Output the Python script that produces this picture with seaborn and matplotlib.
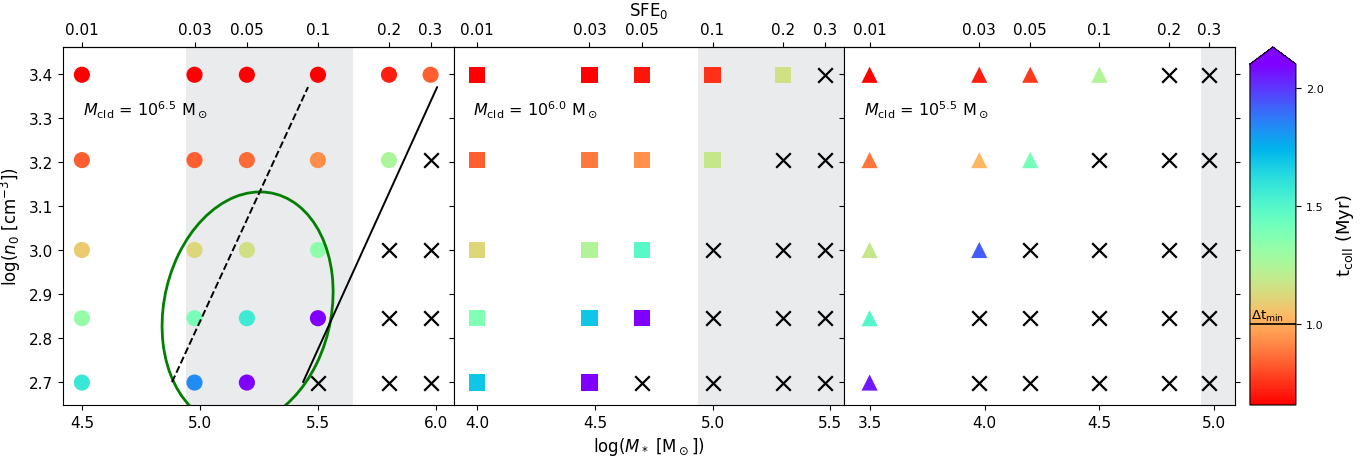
import numpy as np
import pandas as pd
import matplotlib
matplotlib.use("Agg")
import matplotlib.pyplot as plt
import matplotlib.transforms as mtransforms
from matplotlib.patches import Ellipse
from matplotlib.colors import Normalize
from matplotlib.cm import ScalarMappable
import seaborn as sns

sns.set_style("ticks", rc={
    "axes.edgecolor": "black", "xtick.color": "black", "ytick.color": "black",
    "text.color": "black", "axes.labelcolor": "black", "axes.linewidth": 1.1,
})
plt.rcParams["font.family"] = ["DejaVu Sans"]

# Cloud masses (log10 Msun), star-formation efficiencies and initial densities
log_mcld = [6.5, 6.0, 5.5]
mcld_labels = ["6.5", "6.0", "5.5"]
sfe = [0.01, 0.03, 0.05, 0.1, 0.2, 0.3]
sfe_labels = ["0.01", "0.03", "0.05", "0.1", "0.2", "0.3"]
n0 = [500, 700, 1000, 1600, 2500]

# Collapse time t_coll (Myr); rows follow n0, columns follow sfe; NaN = no collapse
nan = np.nan
t_coll_65 = [
    [1.58, 1.83, 2.20, nan, nan, nan],
    [1.32, 1.40, 1.57, 2.20, nan, nan],
    [1.08, 1.12, 1.15, 1.34, nan, nan],
    [0.84, 0.84, 0.86, 0.93, 1.26, nan],
    [0.60, 0.60, 0.60, 0.62, 0.72, 0.84],
]
t_coll_60 = [
    [1.69, 2.20, nan, nan, nan, nan],
    [1.38, 1.69, 2.20, nan, nan, nan],
    [1.11, 1.24, 1.49, nan, nan, nan],
    [0.84, 0.89, 0.94, 1.18, nan, nan],
    [0.60, 0.60, 0.70, 0.75, 1.15, nan],
]
t_coll_55 = [
    [2.05, nan, nan, nan, nan, nan],
    [1.50, nan, nan, nan, nan, nan],
    [1.18, 1.93, nan, nan, nan, nan],
    [0.88, 1.03, 1.41, nan, nan, nan],
    [0.60, 0.72, 0.77, 1.24, nan, nan],
]
t_coll_all = [t_coll_65, t_coll_60, t_coll_55]
dt_min = 1.0

markers = ["o", "s", "^"]
xlims = [(4.42, 6.075), (3.90, 5.56), (3.39, 5.09)]
xticks = [[4.5, 5.0, 5.5, 6.0], [4.0, 4.5, 5.0, 5.5], [3.5, 4.0, 4.5, 5.0]]
ylim = (2.648, 3.461)
yticks = [2.7, 2.8, 2.9, 3.0, 3.1, 3.2, 3.3, 3.4]
shade = (4.94, 5.65)

norm = Normalize(vmin=0.66, vmax=2.10)
cmap = "rainbow_r"

fig = plt.figure(figsize=(13.68, 4.6), dpi=100)
left, bottom, width, height = 0.04605, 0.1174, 0.28558, 0.7783

axes = []
for i, (m, tc) in enumerate(zip(log_mcld, t_coll_all)):
    ax = fig.add_axes([left + i * width, bottom, width, height])
    axes.append(ax)
    rows = []
    for r, n in enumerate(n0):
        for c, s in enumerate(sfe):
            rows.append({"logM": np.log10(s) + m, "logn": np.log10(n), "tcoll": tc[r][c]})
    df = pd.DataFrame(rows)
    ok = df[df["tcoll"].notna()]
    fail = df[df["tcoll"].isna()]

    ax.axvspan(*shade, color="#eaebed", lw=0, zorder=0)
    sns.scatterplot(data=ok, x="logM", y="logn", hue="tcoll", hue_norm=norm,
                    palette=cmap, marker=markers[i], s=135, linewidth=0,
                    legend=False, ax=ax, zorder=3)
    if len(fail):
        sns.scatterplot(data=fail, x="logM", y="logn", marker="x", color="black",
                        s=110, linewidth=1.6, legend=False, ax=ax, zorder=3)

    ax.set_xlim(*xlims[i])
    ax.set_ylim(*ylim)
    ax.set_xticks(xticks[i], labels=[f"{v:.1f}" for v in xticks[i]])
    ax.set_yticks(yticks, labels=[f"{v:.1f}" for v in yticks])
    ax.tick_params(axis="y", left=True, right=True, labelleft=(i == 0), labelsize=11)
    ax.tick_params(axis="x", top=False, labelsize=11)
    ax.set_xlabel("")
    ax.set_ylabel("")

    sec = ax.secondary_xaxis(
        "top",
        functions=(lambda x, m=m: 10 ** (x - m),
                   lambda s, m=m: np.log10(np.clip(s, 1e-12, None)) + m))
    sec.set_xticks(sfe, labels=sfe_labels)
    sec.tick_params(labelsize=11)
    if i == 1:
        sec.set_xlabel("SFE$_0$", fontsize=12, labelpad=5)
        ax.set_xlabel(r"log($M_*$ [M$_\odot$])", fontsize=12)

    ax.text(0.05, 0.827, r"$M_{\rm cld}$ = 10$^{%s}$ M$_\odot$" % mcld_labels[i],
            transform=ax.transAxes, fontsize=11.5, va="center", ha="left")

axes[0].set_ylabel(r"log($n_0$ [cm$^{-3}$])", fontsize=12)

# Region of the highest-mass panel and the two reference relations
ax0 = axes[0]
ax0.add_patch(Ellipse((5.202, 2.866), 0.733, 0.52, angle=12.4, fill=False,
                      ec="green", lw=2, zorder=4))
ax0.plot([4.882, 5.458], [2.70, 3.37], color="black", ls="--", lw=1.4, zorder=4)
ax0.plot([5.437, 6.005], [2.70, 3.37], color="black", ls="-", lw=1.4, zorder=4)

# Colour bar for the collapse time
cax = fig.add_axes([0.9137, bottom, 0.0336, height])
cb = fig.colorbar(ScalarMappable(norm=norm, cmap=cmap), cax=cax, extend="max")
cb.set_ticks([1.0, 1.5, 2.0])
cb.ax.tick_params(labelsize=8)
cb.set_label(r"$\rm t_{coll}$ (Myr)", fontsize=13, labelpad=8)
cb.ax.axhline(dt_min, color="black", lw=1.2)
trans = mtransforms.blended_transform_factory(cb.ax.transAxes, cb.ax.transData)
cb.ax.text(0.03, dt_min + 0.005, r"$\rm \Delta t_{min}$", transform=trans,
           fontsize=9.5, va="bottom", ha="left")

fig.savefig("out.png", dpi=100)
